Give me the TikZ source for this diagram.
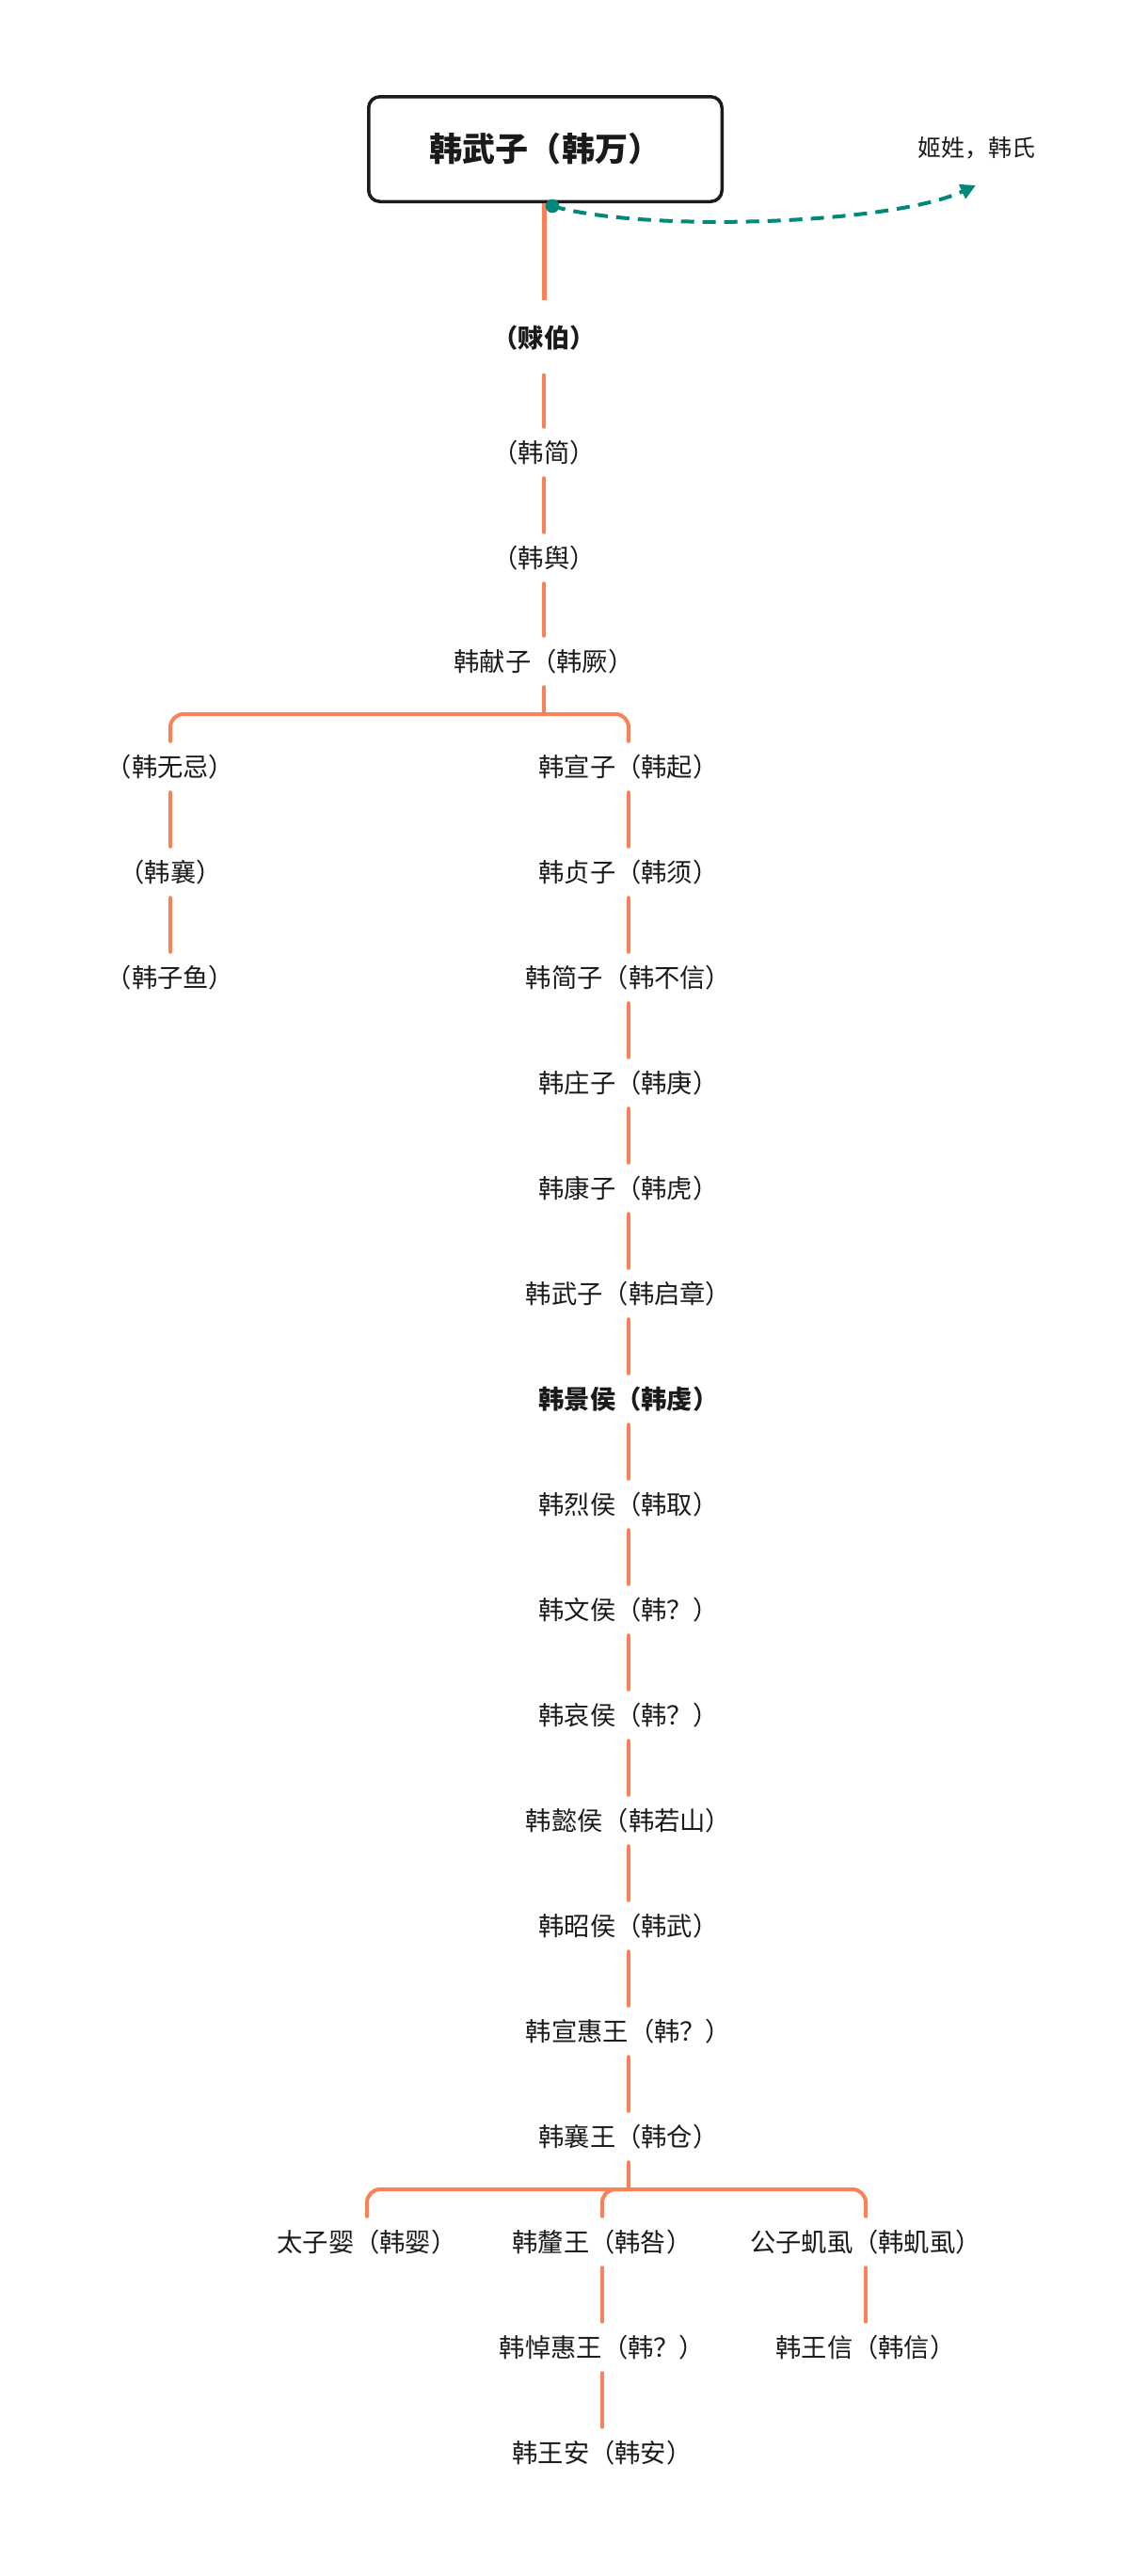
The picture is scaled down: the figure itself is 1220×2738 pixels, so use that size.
\documentclass[tikz,border=0pt]{standalone}
\usepackage{fontspec}
\setmainfont{Noto Sans CJK SC}
\usetikzlibrary{arrows.meta}
\definecolor{branch}{RGB}{250,128,88}
\definecolor{tealc}{RGB}{0,137,123}
\definecolor{ink}{RGB}{26,26,26}
\begin{document}
\begin{tikzpicture}[x=1pt,y=-1pt,
  item/.style={inner xsep=0pt, inner ysep=13.5pt, text height=23.5pt, text depth=3.5pt,
    font=\fontsize{27.3}{31}\selectfont, text=ink},
  keyitem/.style={item, font=\fontsize{27.3}{31}\selectfont\bfseries},
  rootbox/.style={draw=ink, line width=3.5pt, rounded corners=12pt,
    minimum width=375.5pt, minimum height=111.5pt, text=ink,
    font=\fontsize{35.1}{40}\selectfont\bfseries},
  note/.style={inner sep=0pt, text=ink, font=\fontsize{25}{30}\selectfont},
  link/.style={draw=branch, line width=4pt, line cap=round},
  fork/.style={link, rounded corners=14pt},
  relation/.style={draw=tealc, line width=4pt, dash pattern=on 14pt off 9pt,
    -{Triangle[length=16pt,width=16pt]}}]
\useasboundingbox (0,0) rectangle (1220,2738);

% root
\node[rootbox] (root) at (579.5,158.5) {韩武子（韩万）};
\node[note] (label) at (1037.5,157) {姬姓，韩氏};

% main column
\node[keyitem, inner ysep=26pt] (a1) at (578,359) {（赇伯）};
\node[item] (a2) at (578,481) {（韩简）};
\node[item] (a3) at (578,593) {（韩舆）};
\node[item] (a4) at (578,703) {韩献子（韩厥）};

% left branch
\node[item] (l1) at (181,815) {（韩无忌）};
\node[item] (l2) at (181,927) {（韩襄）};
\node[item] (l3) at (181,1039) {（韩子鱼）};

% right branch
\node[item] (r1) at (668,815) {韩宣子（韩起）};
\node[item] (r2) at (668,927) {韩贞子（韩须）};
\node[item] (r3) at (668,1039) {韩简子（韩不信）};
\node[item] (r4) at (668,1151) {韩庄子（韩庚）};
\node[item] (r5) at (668,1263) {韩康子（韩虎）};
\node[item] (r6) at (668,1375) {韩武子（韩启章）};
\node[keyitem] (r7) at (668,1487) {韩景侯（韩虔）};
\node[item] (r8) at (668,1599) {韩烈侯（韩取）};
\node[item] (r9) at (668,1711) {韩文侯（韩？）};
\node[item] (r10) at (668,1823) {韩哀侯（韩？）};
\node[item] (r11) at (668,1935) {韩懿侯（韩若山）};
\node[item] (r12) at (668,2047) {韩昭侯（韩武）};
\node[item] (r13) at (668,2159) {韩宣惠王（韩？）};
\node[item] (r14) at (668,2271) {韩襄王（韩仓）};

% last generation
\node[item] (b1) at (390,2383) {太子婴（韩婴）};
\node[item] (b2) at (640,2383) {韩釐王（韩咎）};
\node[item] (b3) at (920,2383) {公子虮虱（韩虮虱）};
\node[item] (b4) at (640,2495) {韩悼惠王（韩？）};
\node[item] (b5) at (640,2607) {韩王安（韩安）};
\node[item] (b6) at (920,2495) {韩王信（韩信）};

% connectors
\draw[draw=branch, line width=5pt] (a1.north |- root.south) -- (a1.north);
\draw[link] (a1) -- (a2);
\draw[link] (a2) -- (a3);
\draw[link] (a3) -- (a4);

\coordinate (j1) at (578,759);
\draw[link] (a4) -- (j1);
\draw[fork] (j1) -| (l1);
\draw[fork] (j1) -| (r1);

\draw[link] (l1) -- (l2);
\draw[link] (l2) -- (l3);

\draw[link] (r1) -- (r2);
\draw[link] (r2) -- (r3);
\draw[link] (r3) -- (r4);
\draw[link] (r4) -- (r5);
\draw[link] (r5) -- (r6);
\draw[link] (r6) -- (r7);
\draw[link] (r7) -- (r8);
\draw[link] (r8) -- (r9);
\draw[link] (r9) -- (r10);
\draw[link] (r10) -- (r11);
\draw[link] (r11) -- (r12);
\draw[link] (r12) -- (r13);
\draw[link] (r13) -- (r14);

\coordinate (j2) at (668,2327);
\draw[link] (r14) -- (j2);
\draw[fork] (j2) -| (b1);
\draw[fork] (j2) -| (b2);
\draw[fork] (j2) -| (b3);

\draw[link] (b2) -- (b4);
\draw[link] (b4) -- (b5);
\draw[link] (b3) -- (b6);

% relation to the clan label
\coordinate (dot) at (587,219);
\coordinate (tip) at (1037,197);
\draw[relation] (dot) .. controls (683,247) and (946,239) .. (tip);
\fill[tealc] (dot) circle (7.3pt);
\end{tikzpicture}
\end{document}
